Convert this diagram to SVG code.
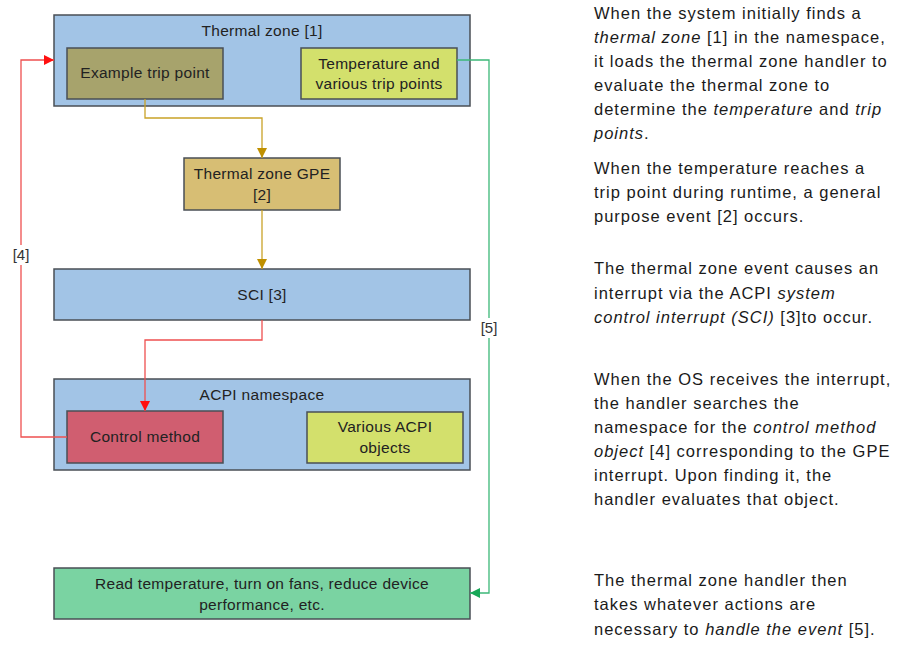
<svg xmlns="http://www.w3.org/2000/svg" width="901" height="652" viewBox="0 0 901 652">
  <style>
    .box { stroke: #4a4f55; stroke-width: 1.5; }
    .zone { fill: #a2c4e6; }
    .olive { fill: #a7a36c; }
    .lime { fill: #d3e06c; }
    .tan { fill: #d7be74; }
    .rose { fill: #d05e70; }
    .mint { fill: #7ad3a2; }
    .lbl { font-family: "Liberation Sans", Arial, sans-serif; font-size: 15.5px; letter-spacing: 0.3px; fill: #222; text-anchor: middle; }
    .tag { font-family: "Liberation Sans", Arial, sans-serif; font-size: 15px; fill: #333; text-anchor: middle; }
    .note { font-family: "Liberation Sans", Arial, sans-serif; font-size: 16.5px; letter-spacing: 1px; fill: #1a1a1a; }
    .gold { stroke: #c9a227; stroke-width: 1.3; fill: none; }
    .red { stroke: #ee5050; stroke-width: 1.3; fill: none; }
    .green { stroke: #3cb878; stroke-width: 1.3; fill: none; }
  </style>
  <defs>
    <marker id="arrGold" viewBox="0 0 10 10" refX="10" refY="5" markerWidth="10" markerHeight="10" markerUnits="userSpaceOnUse" orient="auto">
      <path d="M0,0 L10,5 L0,10 z" fill="#c09000"/>
    </marker>
    <marker id="arrRed" viewBox="0 0 10 10" refX="10" refY="5" markerWidth="10" markerHeight="10" markerUnits="userSpaceOnUse" orient="auto">
      <path d="M0,0 L10,5 L0,10 z" fill="#ff1010"/>
    </marker>
    <marker id="arrGreen" viewBox="0 0 10 10" refX="10" refY="5" markerWidth="10" markerHeight="10" markerUnits="userSpaceOnUse" orient="auto">
      <path d="M0,0 L10,5 L0,10 z" fill="#18a858"/>
    </marker>
  </defs>
  <rect width="901" height="652" fill="#ffffff"/>

  <!-- nodes -->
  <g id="thermal-zone">
    <rect class="box zone" x="54" y="15" width="416" height="91"/>
    <text class="lbl" x="262" y="36">Thermal zone [1]</text>
  </g>
  <g id="example-trip-point">
    <rect class="box olive" x="67" y="48" width="156" height="51"/>
    <text class="lbl" x="145" y="78">Example trip point</text>
  </g>
  <g id="temperature-trip-points">
    <rect class="box lime" x="301" y="48" width="156" height="51"/>
    <text class="lbl" x="379" y="69">Temperature and</text>
    <text class="lbl" x="379" y="89">various trip points</text>
  </g>
  <g id="thermal-zone-gpe">
    <rect class="box tan" x="184" y="158" width="156" height="52"/>
    <text class="lbl" x="262" y="179">Thermal zone GPE</text>
    <text class="lbl" x="262" y="200">[2]</text>
  </g>
  <g id="sci">
    <rect class="box zone" x="54" y="269" width="416" height="51"/>
    <text class="lbl" x="262" y="300">SCI [3]</text>
  </g>
  <g id="acpi-namespace">
    <rect class="box zone" x="54" y="379" width="416" height="91"/>
    <text class="lbl" x="262" y="400">ACPI namespace</text>
  </g>
  <g id="control-method">
    <rect class="box rose" x="67" y="411" width="156" height="52"/>
    <text class="lbl" x="145" y="442">Control method</text>
  </g>
  <g id="acpi-objects">
    <rect class="box lime" x="307" y="412" width="156" height="51"/>
    <text class="lbl" x="385" y="432">Various ACPI</text>
    <text class="lbl" x="385" y="453">objects</text>
  </g>
  <g id="actions">
    <rect class="box mint" x="54" y="568" width="416" height="51"/>
    <text class="lbl" x="262" y="589">Read temperature, turn on fans, reduce device</text>
    <text class="lbl" x="262" y="610">performance, etc.</text>
  </g>

  <!-- connectors -->
  <g id="connectors">
    <path class="gold" d="M145,99 V118 H262 V158" marker-end="url(#arrGold)"/>
    <path class="gold" d="M262,210 V269" marker-end="url(#arrGold)"/>
    <path class="red" d="M262,320 V340 H145 V411" marker-end="url(#arrRed)"/>
    <path class="red" d="M67,437 H21 V60 H54" marker-end="url(#arrRed)"/>
    <path class="green" d="M457,60 H489 V593 H470" marker-end="url(#arrGreen)"/>
    <rect x="8" y="245" width="26" height="20" fill="#ffffff"/>
    <text class="tag" x="21" y="260">[4]</text>
    <rect x="476" y="318" width="26" height="20" fill="#ffffff"/>
    <text class="tag" x="489" y="333">[5]</text>
  </g>

  <!-- explanatory notes -->
  <g id="notes" class="note">
    <text x="594" y="19">When the system initially finds a</text>
    <text x="594" y="43"><tspan font-style="italic">thermal zone</tspan> [1] in the namespace,</text>
    <text x="594" y="67">it loads the thermal zone handler to</text>
    <text x="594" y="91">evaluate the thermal zone to</text>
    <text x="594" y="115">determine the <tspan font-style="italic">temperature</tspan> and <tspan font-style="italic">trip</tspan></text>
    <text x="594" y="139"><tspan font-style="italic">points</tspan>.</text>

    <text x="594" y="174">When the temperature reaches a</text>
    <text x="594" y="198">trip point during runtime, a general</text>
    <text x="594" y="222">purpose event [2] occurs.</text>

    <text x="594" y="274">The thermal zone event causes an</text>
    <text x="594" y="299">interrupt via the ACPI <tspan font-style="italic">system</tspan></text>
    <text x="594" y="323"><tspan font-style="italic">control interrupt (SCI)</tspan> [3]to occur.</text>

    <text x="594" y="385">When the OS receives the interrupt,</text>
    <text x="594" y="409">the handler searches the</text>
    <text x="594" y="433">namespace for the <tspan font-style="italic">control method</tspan></text>
    <text x="594" y="457"><tspan font-style="italic">object</tspan> [4] corresponding to the GPE</text>
    <text x="594" y="481">interrupt. Upon finding it, the</text>
    <text x="594" y="505">handler evaluates that object.</text>

    <text x="594" y="586">The thermal zone handler then</text>
    <text x="594" y="610">takes whatever actions are</text>
    <text x="594" y="635">necessary to <tspan font-style="italic">handle the event</tspan> [5].</text>
  </g>
</svg>
